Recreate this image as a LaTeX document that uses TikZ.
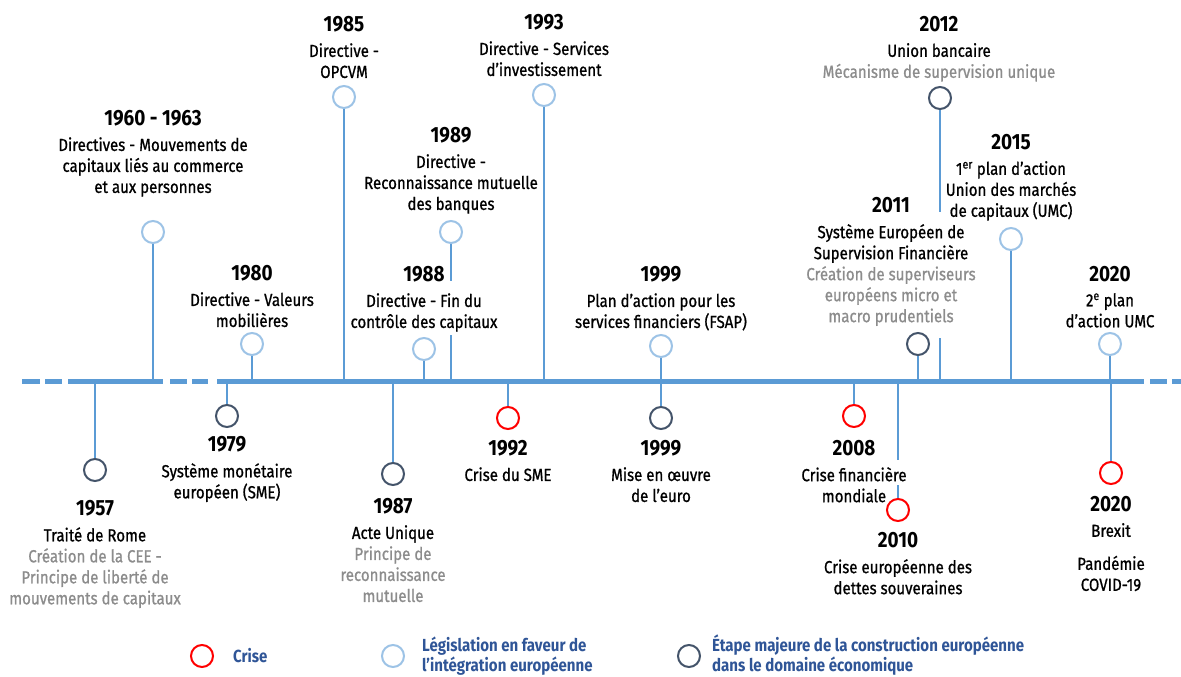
\documentclass[tikz,border=0pt]{standalone}
\usepackage{fontspec}
\setmainfont{Fira Sans}[FakeStretch=0.86, UprightFeatures={FakeBold=0.9}]
\usetikzlibrary{positioning}

\definecolor{axebleu}{HTML}{5B9BD5}
\definecolor{legisbleu}{HTML}{9DC3E6}
\definecolor{etapegris}{HTML}{44546A}
\definecolor{criserouge}{HTML}{FF0000}
\definecolor{gris}{HTML}{8C8C8C}
\definecolor{legbleu}{HTML}{2F5597}

\newcommand{\gris}[1]{\textcolor{gris}{#1}}

\tikzset{
  puce/.style={circle, line width=2pt, minimum size=22pt, inner sep=0pt, fill=white},
  crise/.style={puce, draw=criserouge},
  legis/.style={puce, draw=legisbleu},
  etape/.style={puce, draw=etapegris},
  axe/.style={line width=5pt, axebleu},
  tige/.style={line width=1.8pt, axebleu},
  annee/.style={font=\fontsize{22}{26}\selectfont\bfseries, inner sep=0pt},
  desc/.style={font=\fontsize{17.5}{21}\selectfont, align=center, inner sep=0pt, below=11pt of #1},
  legende/.style={font=\fontsize{17.5}{20}\selectfont\bfseries, text=legbleu, align=left, inner sep=0pt, anchor=west},
}

\begin{document}
\begin{tikzpicture}[x=1pt, y=-1pt]
\useasboundingbox (0,0) rectangle (1181,677);

% ligne du temps
\coordinate (axe) at (0,381);
\foreach \a/\b in {22/40, 45/62, 68/163, 170/187, 192/208, 217/1144, 1150/1167, 1172/1181}
  \draw[axe] (\a,381) -- (\b,381);

% au-dessus de l'axe
\node[legis] (c1960) at (153,232) {};
\draw[tige] (c1960) -- (c1960 |- axe);
\node[annee] (y1960) at (153,118) {1960 - 1963};
\node[desc=y1960] (t1960) {Directives - Mouvements de\\capitaux liés au commerce\\et aux personnes};

\node[legis] (c1980) at (252,344) {};
\draw[tige] (c1980) -- (c1980 |- axe);
\node[annee] (y1980) at (252,273) {1980};
\node[desc=y1980] (t1980) {Directive - Valeurs\\mobilières};

\node[legis] (c1985) at (344,97) {};
\draw[tige] (c1985) -- (c1985 |- axe);
\node[annee] (y1985) at (344,24) {1985};
\node[desc=y1985] (t1985) {Directive -\\OPCVM};

\node[legis] (c1988) at (424,349) {};
\draw[tige] (c1988) -- (c1988 |- axe);
\node[annee] (y1988) at (424,274) {1988};
\node[desc=y1988] (t1988) {Directive - Fin du\\contrôle des capitaux};

\node[legis] (c1989) at (451,232) {};
\coordinate (g1989a) at (451,281);
\coordinate (g1989b) at (451,335);
\draw[tige] (c1989) -- (g1989a);
\draw[tige] (g1989b) -- (g1989b |- axe);
\node[annee] (y1989) at (451,135) {1989};
\node[desc=y1989] (t1989) {Directive -\\Reconnaissance mutuelle\\des banques};

\node[legis] (c1993) at (544,95) {};
\draw[tige] (c1993) -- (c1993 |- axe);
\node[annee] (y1993) at (544,22) {1993};
\node[desc=y1993] (t1993) {Directive - Services\\d’investissement};

\node[legis] (c1999a) at (661,346) {};
\draw[tige] (c1999a) -- (c1999a |- axe);
\node[annee] (y1999a) at (661,274) {1999};
\node[desc=y1999a] (t1999a) {Plan d’action pour les\\services financiers (FSAP)};

\node[etape] (c2011) at (918,344) {};
\draw[tige] (c2011) -- (c2011 |- axe);
\node[annee] (y2011) at (891,205) {2011};
\node[desc=y2011] (t2011) {Système Européen de\\Supervision Financière\\\gris{Création de superviseurs}\\\gris{européens micro et}\\\gris{macro prudentiels}};

\node[etape] (c2012) at (940,98) {};
\coordinate (g2012a) at (940,212);
\coordinate (g2012b) at (940,338);
\draw[tige] (c2012) -- (g2012a);
\draw[tige] (g2012b) -- (g2012b |- axe);
\node[annee] (y2012) at (939,24) {2012};
\node[desc=y2012] (t2012) {Union bancaire\\\gris{Mécanisme de supervision unique}};

\node[legis] (c2015) at (1011,239) {};
\draw[tige] (c2015) -- (c2015 |- axe);
\node[annee] (y2015) at (1011,142) {2015};
\node[desc=y2015] (t2015) {1\textsuperscript{er} plan d'action\\Union des marchés\\de capitaux (UMC)};

\node[legis] (c2020a) at (1110,344) {};
\draw[tige] (c2020a) -- (c2020a |- axe);
\node[annee] (y2020a) at (1110,274) {2020};
\node[desc=y2020a] (t2020a) {2\textsuperscript{e} plan\\d'action UMC};

% au-dessous de l'axe
\node[etape] (c1957) at (95,470) {};
\draw[tige] (c1957) -- (c1957 |- axe);
\node[annee] (y1957) at (95,508) {1957};
\node[desc=y1957] (t1957) {Traité de Rome\\\gris{Création de la CEE -}\\\gris{Principe de liberté de}\\\gris{mouvements de capitaux}};

\node[etape] (c1979) at (227,416) {};
\draw[tige] (c1979) -- (c1979 |- axe);
\node[annee] (y1979) at (227,444) {1979};
\node[desc=y1979] (t1979) {Système monétaire\\européen (SME)};

\node[etape] (c1987) at (393,474) {};
\draw[tige] (c1987) -- (c1987 |- axe);
\node[annee] (y1987) at (393,506) {1987};
\node[desc=y1987] (t1987) {Acte Unique\\\gris{Principe de}\\\gris{reconnaissance}\\\gris{mutuelle}};

\node[crise] (c1992) at (508,418) {};
\draw[tige] (c1992) -- (c1992 |- axe);
\node[annee] (y1992) at (508,448) {1992};
\node[desc=y1992] (t1992) {Crise du SME};

\node[etape] (c1999b) at (661,418) {};
\draw[tige] (c1999b) -- (c1999b |- axe);
\node[annee] (y1999b) at (661,448) {1999};
\node[desc=y1999b] (t1999b) {Mise en œuvre\\de l’euro};

\node[crise] (c2008) at (854,416) {};
\draw[tige] (c2008) -- (c2008 |- axe);
\node[annee] (y2008) at (854,448) {2008};
\node[desc=y2008] (t2008) {Crise financière\\mondiale};

\node[crise] (c2010) at (898,510) {};
\coordinate (g2010a) at (898,460);
\coordinate (g2010b) at (898,485);
\draw[tige] (g2010a |- axe) -- (g2010a);
\draw[tige] (g2010b) -- (c2010);
\node[annee] (y2010) at (898,540) {2010};
\node[desc=y2010] (t2010) {Crise européenne des\\dettes souveraines};

\node[crise] (c2020b) at (1111,473) {};
\draw[tige] (c2020b) -- (c2020b |- axe);
\node[annee] (y2020b) at (1111,504) {2020};
\node[desc=y2020b] (t2020b) {Brexit\\[12pt]Pandémie\\COVID-19};

% légende
\node[crise] (lcrise) at (202,656) {};
\node[legende] (tcrise) at (233,656) {Crise};
\node[legis] (llegis) at (393,656) {};
\node[legende] (tlegis) at (422,656) {Législation en faveur de\\l’intégration européenne};
\node[etape] (letape) at (689,656) {};
\node[legende] (tetape) at (712,655) {Étape majeure de la construction européenne\\dans le domaine économique};

\end{tikzpicture}
\end{document}
